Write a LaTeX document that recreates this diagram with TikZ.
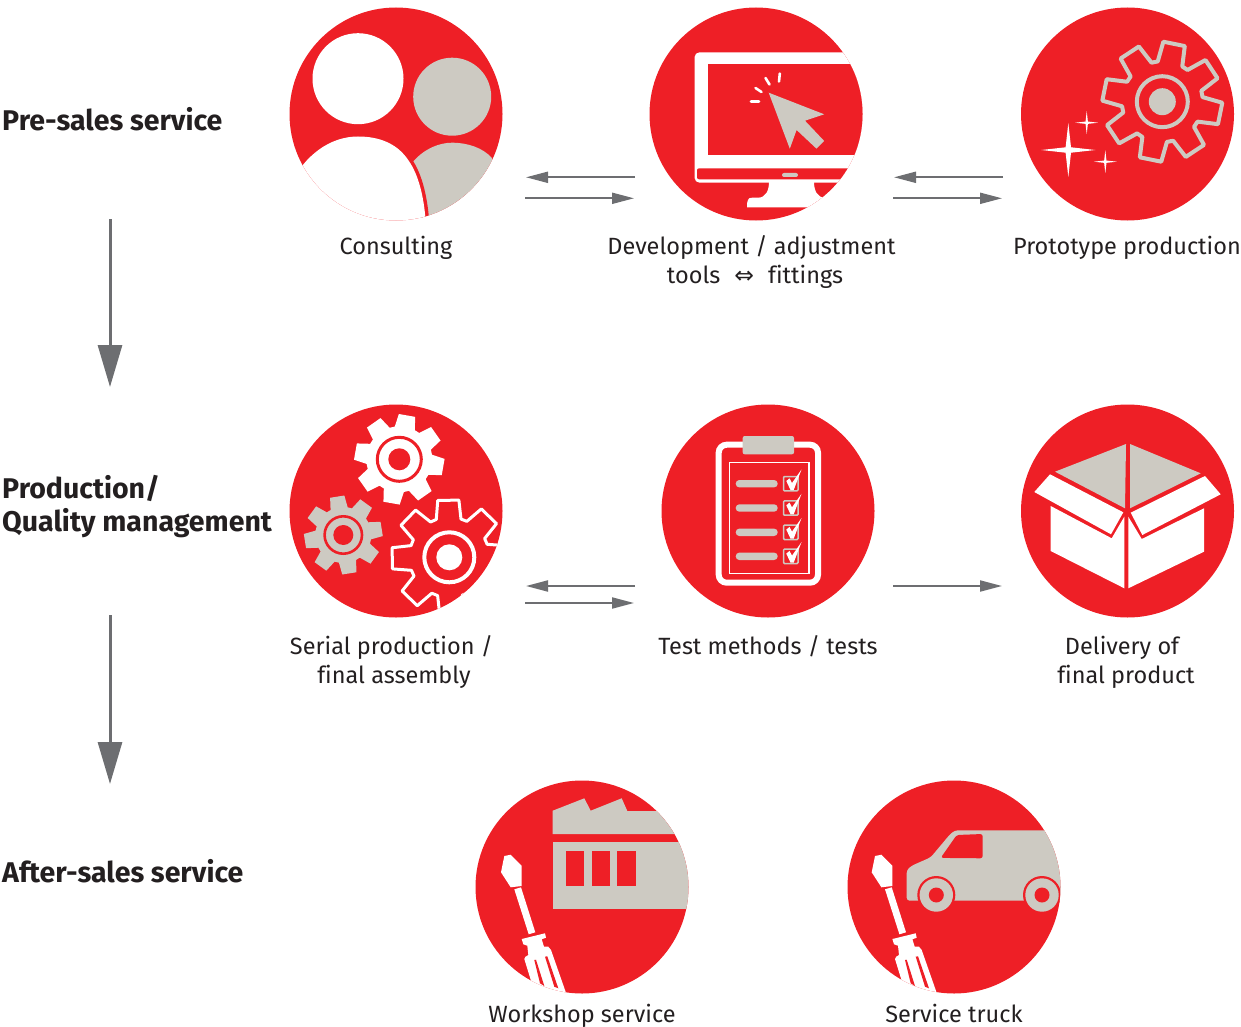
\documentclass[tikz,border=0pt]{standalone}
\usepackage{fontspec}
\usetikzlibrary{arrows.meta}
\setmainfont[Ligatures=NoCommon]{Fira Sans}
\newfontfamily\symfont{DejaVu Sans}
\definecolor{iconred}{HTML}{EE1F26}
\definecolor{icongrey}{HTML}{CDCAC2}
\definecolor{arrowgrey}{HTML}{6D6E71}
\definecolor{inktext}{HTML}{231F20}
\tikzset{
  icon/.style={circle,fill=iconred,minimum size=213pt,inner sep=0pt},
  lab/.style={font=\fontsize{23.5}{29}\selectfont,text=inktext,inner sep=0pt,align=center,anchor=base},
  head/.style={font=\fontsize{28.5}{33}\selectfont\bfseries,text=inktext,inner sep=0pt,align=left,anchor=base west},
  flow/.style={draw=arrowgrey,line width=2pt,-{Triangle[length=22pt,width=11pt]}},
  down/.style={draw=arrowgrey,line width=3pt,-{Triangle[length=42pt,width=24pt]}},
  ray/.style={draw=white,line width=2.6pt,line cap=round},
}
% cx cy tip root baseangle
\newcommand\gearpath[5]{({#1+#4*cos(#5-18)},{#2-#4*sin(#5-18)})
  \foreach \k [evaluate=\k as \a using #5+45*\k] in {0,...,7}{
    -- ({#1+#4*cos(\a-18)},{#2-#4*sin(\a-18)})
    -- ({#1+#3*cos(\a-10.5)},{#2-#3*sin(\a-10.5)})
    -- ({#1+#3*cos(\a+10.5)},{#2-#3*sin(\a+10.5)})
    -- ({#1+#4*cos(\a+18)},{#2-#4*sin(\a+18)})
  } -- cycle}
\newcommand\sparkle[3]{\fill[white] (#1,#2-#3) -- (#1+.1*#3,#2-.1*#3) -- (#1+#3,#2)
  -- (#1+.1*#3,#2+.1*#3) -- (#1,#2+#3)
  -- (#1-.1*#3,#2+.1*#3) -- (#1-#3,#2)
  -- (#1-.1*#3,#2-.1*#3) -- cycle;}
\newcommand\driver{%
  \fill[white,line join=round] (504.3,856) -- (510.7,854.7) -- (521.7,865.7) -- (521.7,886) -- (510.7,887.3) -- (501,872.3) -- cycle;
  \fill[white] (514.3,889.3) -- (521,887.3) -- (535.3,932.3) -- (528.7,934.3) -- cycle;
  \fill[white] (521.7,939) -- (545,933.3) -- (546,937.7) -- (541.7,939.3) -- (544,946.7) -- (548.3,946.7) -- (551,950) -- (572,1010) -- (540,1010) -- (524.3,959) -- (525.5,956.7) -- (528.3,955) -- (527.3,945.7) -- (523.3,944.3) -- cycle;
  \fill[iconred] (534.3,960) -- (536,959.7) -- (544.3,986) -- (540,983.3) -- cycle;
  \fill[iconred] (545,956.7) -- (547.3,956.3) -- (558.3,988.3) -- (554.3,986.7) -- cycle;
}
\begin{document}
\begin{tikzpicture}[x=1pt,y=-1pt]
\useasboundingbox (0,0) rectangle (1241,1027);
% ---- circles
\node[icon] (consulting) at (396,114) {};
\node[icon] (development) at (756,114) {};
\node[icon] (prototype) at (1127.5,114) {};
\node[icon] (serial) at (396,511) {};
\node[icon] (test) at (768,511) {};
\node[icon] (delivery) at (1127.5,511) {};
\node[icon] (workshop) at (582,887) {};
\node[icon] (truck) at (954,887) {};
% ---- consulting
\begin{scope}
\clip (396,114) circle[radius=106.5];
\fill[white] (358,78.7) circle[radius=45.5];
\fill[icongrey] (452.2,96.7) circle[radius=39];
\fill[icongrey] (413,161.7) .. controls (425,148) and (440,142.7) .. (452,142.7) .. controls (468,142.7) and (483,148) .. (492,158) -- (520,230) -- (420,230) -- cycle;
\draw[iconred,line width=7pt] (406,157) .. controls (418,172) and (424,195) .. (426,225);
\fill[white] (290,185) .. controls (305,155) and (330,136.5) .. (358,136.5) .. controls (380,136.5) and (396,144) .. (406,157) .. controls (418,172) and (424,195) .. (426,225) -- (290,225) -- cycle;
\end{scope}
% ---- development
\begin{scope}
\clip (756,114) circle[radius=106.5];
\fill[white,rounded corners=5pt] (694.5,52.3) rectangle (880,182.7);
\fill[iconred] (707.9,64.3) rectangle (880,155.3);
\fill[iconred,rounded corners=2pt] (697,168.3) rectangle (880,179.3);
\fill[icongrey,rounded corners=2pt] (782,173) rectangle (798,177);
\fill[white] (769,182) .. controls (769,190) and (766,197.7) .. (758,197.7) -- (752,197.7) .. controls (748,197.7) and (747,200) .. (747,207.3) -- (840,207.3) -- (840,197.7) -- (825,197.7) .. controls (817,197.7) and (814,190) .. (814,182) -- cycle;
\fill[icongrey] (768.7,92.7) -- (824.2,114.3) -- (805,120.7) -- (824.2,141) -- (816.5,148.7) -- (796.6,130) -- (789.8,148.7) -- cycle;
\draw[ray] (751,101.7) -- (759,101.7);
\draw[ray] (755.5,88) -- (761.5,92);
\draw[ray] (765.5,78) -- (769.5,84.5);
\draw[ray] (779.8,73.5) -- (779,81.5);
\end{scope}
% ---- prototype
\draw[icongrey,line width=4pt,line join=round] \gearpath{1162.3}{101.7}{60}{40.5}{33.5};
\draw[icongrey,line width=4pt] (1162.3,101.7) circle[radius=25.5];
\fill[icongrey] (1162.3,101.7) circle[radius=13.5];
\sparkle{1068.3}{150}{27}
\sparkle{1086.7}{122.7}{11.5}
\sparkle{1105.3}{161.7}{11.5}
% ---- serial
\begin{scope}
\clip (396,511) circle[radius=106.5];
\fill[white,line join=round] \gearpath{399.3}{459.3}{45.3}{33}{80};
\draw[iconred,line width=3pt] (399.3,459.3) circle[radius=22];
\fill[iconred] (399.3,459.3) circle[radius=11];
\fill[icongrey] \gearpath{343.3}{535}{39.5}{28}{99};
\draw[iconred,line width=2.6pt] (343.3,535) circle[radius=18.7];
\fill[iconred] (343.3,535) circle[radius=10];
\draw[white,line width=3pt,line join=round] \gearpath{449.3}{557.3}{58}{40}{91};
\draw[white,line width=4pt] (449.3,557.3) circle[radius=25];
\fill[white] (449.3,557.3) circle[radius=13];
\end{scope}
% ---- test
\draw[white,line width=6pt,rounded corners=8pt] (718.7,444.7) rectangle (818,582.7);
\fill[icongrey,rounded corners=2pt] (742.7,436) rectangle (794,454.3);
\draw[white,line width=1.4pt] (729.3,462.7) rectangle (809,573.7);
\foreach \yy in {483.7,508,532.3,556.3}{
  \fill[icongrey,rounded corners=3.6pt] (735.7,\yy-3.7) rectangle (777.7,\yy+3.7);
  \draw[icongrey,line width=1.5pt,rounded corners=1pt] (783.5,\yy-7.2) rectangle (798,\yy+7.2);
  \fill[white] (786.3,\yy-2.7) -- (789.5,\yy-5.4) -- (792,\yy-.7) -- (801.5,\yy-14.2) -- (793.7,\yy+6.3) -- (790.5,\yy+6.3) -- cycle;
}
% ---- delivery
\fill[icongrey] (1126,444) -- (1055,471.7) -- (1125,508.3) -- cycle;
\fill[icongrey] (1130,444) -- (1200.7,473.3) -- (1130,508.3) -- cycle;
\fill[white] (1050,474.3) -- (1034.3,492) -- (1111,534.3) -- (1123.3,512.3) -- cycle;
\fill[white] (1205,476) -- (1220.7,494.3) -- (1142.3,535) -- (1130.7,512.7) -- cycle;
\fill[white] (1050.7,506) -- (1050.7,551) -- (1124.3,588.3) -- (1124.3,516.7) -- (1111.7,538.3) -- cycle;
\fill[white] (1204,508.3) -- (1204,551.7) -- (1128.3,588.3) -- (1128.3,516.7) -- (1141.7,539) -- cycle;
% ---- workshop
\begin{scope}
\clip (582,887) circle[radius=106.5];
\fill[icongrey] (552.7,810.7) -- (584.3,798.3) -- (590.7,810.7) -- (621.7,798.3) -- (627.3,811) -- (700,811) -- (700,834) -- (552.7,834) -- cycle;
\fill[icongrey] (552.7,842) rectangle (700,908.7);
\fill[iconred] (566,851) rectangle (584.3,885.7);
\fill[iconred] (591.7,851) rectangle (610,885.7);
\fill[iconred] (617,851) rectangle (635.7,885.7);
\driver
\end{scope}
% ---- truck
\begin{scope}
\clip (954,887) circle[radius=106.5];
\fill[icongrey,rounded corners=3pt] (906.7,870) -- (911.7,865.7) -- (930.7,857.3) -- (950,834.3) -- (955,830.3) -- (1075,830.3) -- (1075,900.7) -- (906.7,900.7) -- cycle;
\fill[iconred,rounded corners=2.5pt] (940.7,857.9) -- (956.7,835) -- (982.7,834) -- (982.7,858.3) -- cycle;
\foreach \xx in {936.3,1042}{
  \fill[iconred] (\xx,895) circle[radius=19];
  \fill[icongrey] (\xx,895) circle[radius=16.7];
  \fill[iconred] (\xx,895) circle[radius=7.5];
}
\begin{scope}[xshift=370.7pt]
\driver
\end{scope}
\end{scope}
% ---- connectors
\coordinate (c1) at (635,177.3); \coordinate (c2) at (526,177.3);
\coordinate (c3) at (525,198.3); \coordinate (c4) at (634,198.3);
\coordinate (c5) at (1003,177.3); \coordinate (c6) at (894,177.3);
\coordinate (c7) at (893,198.3); \coordinate (c8) at (1002,198.3);
\coordinate (c9) at (635,586); \coordinate (c10) at (526,586);
\coordinate (c11) at (525,603); \coordinate (c12) at (634,603);
\coordinate (c13) at (893,586); \coordinate (c14) at (1002,586);
\coordinate (c15) at (110,219); \coordinate (c16) at (110,387);
\coordinate (c17) at (110,615); \coordinate (c18) at (110,784);
\draw[flow] (c1) -- (c2);
\draw[flow] (c3) -- (c4);
\draw[flow] (c5) -- (c6);
\draw[flow] (c7) -- (c8);
\draw[flow] (c9) -- (c10);
\draw[flow] (c11) -- (c12);
\draw[flow] (c13) -- (c14);
\draw[down] (c15) -- (c16);
\draw[down] (c17) -- (c18);
% ---- labels
\node[head] (h1) at (2,131) {Pre-sales service};
\node[head] (h2) at (2,531) {Production/\\Quality management};
\node[head] (h3) at (2,882) {After-sales service};
\node[lab] (l1) at (396,254) {Consulting};
\node[lab] (l2) at (755,283) {Development / adjustment\hspace*{7pt}\\tools\,\, {\symfont ⇔}\,\, fittings};
\node[lab] (l3) at (1127,254) {Prototype production};
\node[lab] (l4) at (394,683) {Serial production /\hspace*{5pt}\\final assembly};
\node[lab] (l5) at (768,654) {Test methods / tests};
\node[lab] (l6) at (1126,683) {Delivery of\hspace*{8pt}\\final product};
\node[lab] (l7) at (582,1022) {Workshop service};
\node[lab] (l8) at (954,1022) {Service truck};
\end{tikzpicture}
\end{document}
